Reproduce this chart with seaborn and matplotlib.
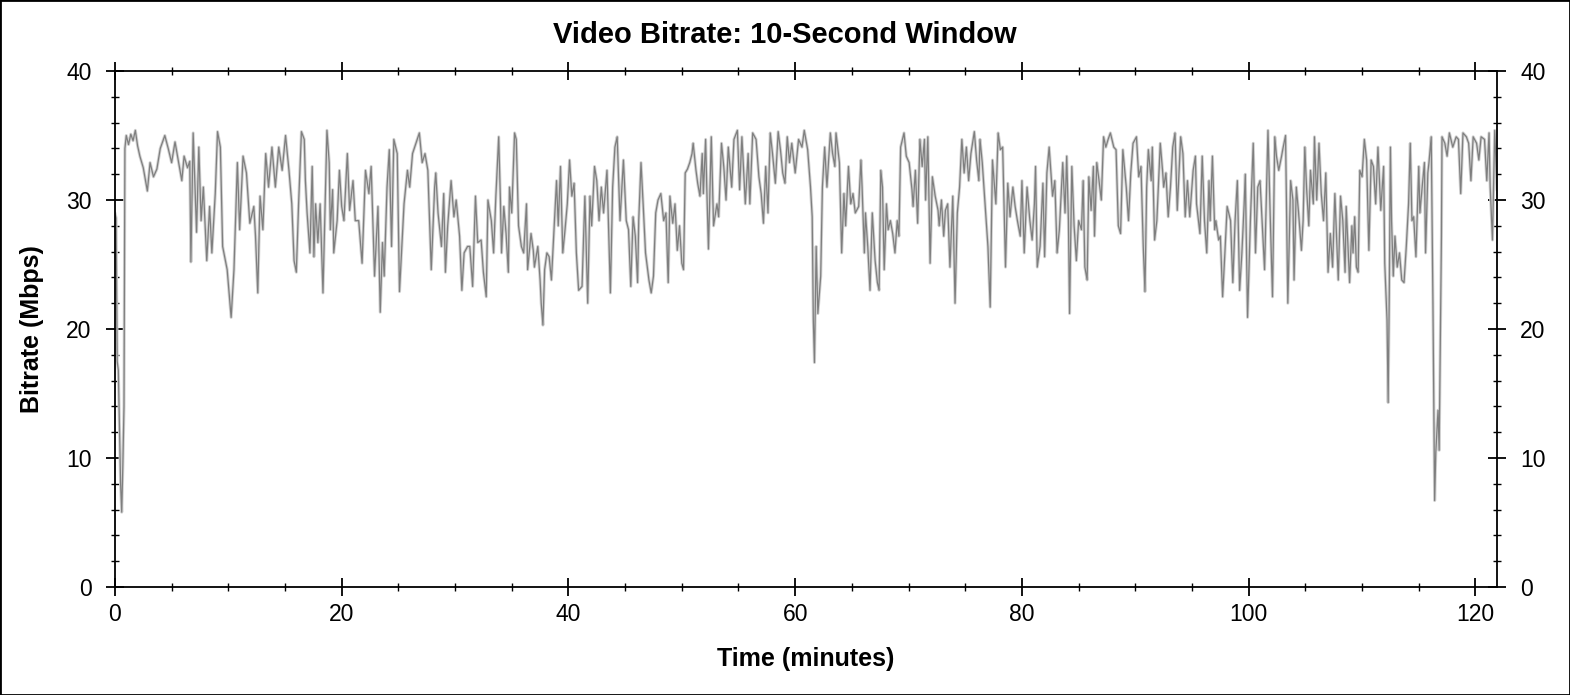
import matplotlib
matplotlib.use("Agg")
import matplotlib.pyplot as plt
from matplotlib.patches import Rectangle
from matplotlib.ticker import MultipleLocator
import seaborn as sns
import pandas as pd

# values (minutes, Mbps)
minutes = [
    0.0, 0.1, 0.2, 0.3, 0.4, 0.5, 0.6, 0.7, 0.8, 0.88,
    1.0, 1.2, 1.4, 1.6, 1.8, 2.0, 2.2, 2.5, 2.86, 3.1,
    3.4, 3.7, 4.0, 4.4, 4.7, 5.0, 5.3, 5.6, 5.9, 6.1,
    6.4, 6.6, 6.7, 6.9, 7.2, 7.4, 7.6, 7.8, 8.1, 8.35,
    8.55, 8.85, 9.05, 9.3, 9.5, 9.9, 10.25, 10.5, 10.8, 11.0,
    11.3, 11.6, 11.9, 12.25, 12.4, 12.6, 12.8, 13.05, 13.3, 13.55,
    13.85, 14.15, 14.45, 14.75, 15.05, 15.35, 15.6, 15.8, 16.0, 16.2,
    16.45, 16.7, 16.8, 16.95, 17.2, 17.4, 17.55, 17.7, 17.9, 18.1,
    18.35, 18.7, 18.9, 19.0, 19.2, 19.3, 19.6, 19.8, 20.0, 20.2,
    20.5, 20.7, 21.0, 21.2, 21.5, 21.8, 22.1, 22.4, 22.6, 22.9,
    23.2, 23.4, 23.6, 23.75, 24.0, 24.2, 24.4, 24.6, 24.9, 25.1,
    25.5, 25.8, 26.0, 26.25, 26.55, 26.85, 27.1, 27.35, 27.6, 27.9,
    28.2, 28.3, 28.5, 28.8, 29.0, 29.15, 29.35, 29.65, 29.9, 30.1,
    30.4, 30.6, 30.8, 31.1, 31.3, 31.55, 31.8, 32.0, 32.3, 32.5,
    32.75, 32.9, 33.2, 33.4, 33.6, 33.85, 34.0, 34.1, 34.3, 34.5,
    34.7, 34.8, 35.0, 35.25, 35.4, 35.6, 35.85, 36.05, 36.3, 36.4,
    36.7, 36.9, 37.0, 37.3, 37.5, 37.6, 37.75, 37.9, 38.1, 38.3,
    38.5, 38.7, 38.95, 39.1, 39.3, 39.5, 39.7, 39.9, 40.1, 40.3,
    40.5, 40.7, 40.9, 41.2, 41.45, 41.7, 41.9, 42.05, 42.3, 42.5,
    42.7, 42.9, 43.1, 43.4, 43.7, 43.9, 44.1, 44.3, 44.55, 44.85,
    45.1, 45.3, 45.5, 45.7, 45.9, 46.1, 46.2, 46.4, 46.6, 46.8,
    47.1, 47.3, 47.5, 47.7, 47.9, 48.15, 48.4, 48.6, 48.8, 48.95,
    49.2, 49.4, 49.6, 49.8, 50.0, 50.15, 50.3, 50.5, 50.7, 50.9,
    51.0, 51.25, 51.4, 51.6, 51.8, 51.9, 52.1, 52.2, 52.35, 52.6,
    52.8, 53.1, 53.25, 53.5, 53.7, 53.9, 54.1, 54.4, 54.6, 54.9,
    55.1, 55.3, 55.6, 55.85, 56.0, 56.25, 56.55, 56.8, 57.0, 57.2,
    57.4, 57.6, 57.8, 58.0, 58.25, 58.5, 58.7, 58.9, 59.1, 59.3,
    59.5, 59.7, 60.0, 60.3, 60.6, 60.8, 61.1, 61.35, 61.5, 61.6,
    61.7, 61.85, 62.0, 62.25, 62.4, 62.6, 62.8, 63.1, 63.3, 63.5,
    63.6, 63.9, 64.1, 64.3, 64.45, 64.7, 64.9, 65.1, 65.3, 65.6,
    65.8, 65.9, 66.1, 66.2, 66.4, 66.6, 66.8, 67.05, 67.25, 67.4,
    67.55, 67.7, 67.85, 68.05, 68.2, 68.4, 68.6, 68.8, 69.0, 69.15,
    69.3, 69.6, 69.8, 70.05, 70.3, 70.4, 70.6, 70.8, 71.0, 71.2,
    71.4, 71.5, 71.7, 71.9, 72.1, 72.35, 72.6, 72.7, 72.9, 73.1,
    73.25, 73.45, 73.65, 73.9, 74.1, 74.3, 74.5, 74.7, 74.9, 75.1,
    75.3, 75.5, 75.8, 76.0, 76.2, 76.3, 76.5, 76.8, 77.0, 77.2,
    77.4, 77.7, 77.9, 78.1, 78.3, 78.55, 78.75, 78.95, 79.2, 79.4,
    79.6, 79.85, 80.0, 80.2, 80.45, 80.7, 80.9, 81.1, 81.2, 81.35,
    81.6, 81.85, 82.0, 82.2, 82.4, 82.7, 82.9, 83.1, 83.3, 83.6,
    83.8, 83.95, 84.1, 84.2, 84.4, 84.6, 84.8, 85.0, 85.25, 85.4,
    85.55, 85.75, 85.9, 86.1, 86.3, 86.4, 86.6, 86.8, 87.0, 87.2,
    87.4, 87.6, 87.8, 88.1, 88.3, 88.5, 88.7, 88.9, 89.2, 89.4,
    89.6, 89.8, 90.1, 90.3, 90.5, 90.7, 90.85, 91.0, 91.15, 91.4,
    91.5, 91.7, 91.9, 92.2, 92.4, 92.5, 92.7, 92.9, 93.1, 93.3,
    93.5, 93.7, 94.0, 94.2, 94.4, 94.6, 94.8, 95.1, 95.3, 95.4,
    95.7, 95.9, 96.1, 96.3, 96.5, 96.6, 96.8, 97.0, 97.1, 97.35,
    97.5, 97.7, 97.9, 98.1, 98.4, 98.6, 98.8, 99.0, 99.2, 99.4,
    99.6, 99.7, 99.9, 100.15, 100.4, 100.6, 100.8, 101.0, 101.4, 101.7,
    101.9, 102.1, 102.3, 102.45, 102.65, 102.9, 103.0, 103.25, 103.45, 103.7,
    103.9, 104.0, 104.2, 104.4, 104.65, 104.8, 104.95, 105.1, 105.3, 105.45,
    105.7, 105.8, 106.0, 106.2, 106.4, 106.6, 106.8, 107.0, 107.2, 107.4,
    107.6, 107.8, 107.9, 108.1, 108.3, 108.5, 108.6, 108.9, 109.1, 109.2,
    109.35, 109.5, 109.65, 109.8, 110.0, 110.2, 110.4, 110.6, 110.8, 111.0,
    111.2, 111.4, 111.65, 111.9, 112.0, 112.2, 112.3, 112.4, 112.5, 112.6,
    112.75, 112.9, 113.1, 113.3, 113.5, 113.7, 113.9, 114.1, 114.25, 114.4,
    114.55, 114.75, 115.0, 115.1, 115.3, 115.5, 115.6, 115.8, 115.9, 116.1,
    116.25, 116.4, 116.5, 116.7, 116.8, 117.0, 117.05, 117.3, 117.5, 117.7,
    118.0, 118.3, 118.5, 118.7, 118.9, 119.2, 119.4, 119.6, 119.8, 120.1,
    120.3, 120.5, 120.8, 121.0, 121.2, 121.3, 121.5, 121.7, 121.9, 122.1,
]

bitrate = [
    29.0, 28.6, 17.5, 16.8, 12.5, 8.0, 5.8, 9.5, 14.0, 34.0,
    35.0, 34.3, 35.1, 34.6, 35.4, 34.2, 33.4, 32.5, 30.7, 32.9,
    31.8, 32.4, 34.0, 35.0, 34.0, 32.9, 34.5, 33.0, 31.5, 33.4,
    32.5, 33.0, 25.2, 35.2, 27.5, 34.1, 28.4, 31.0, 25.3, 29.5,
    25.9, 30.5, 35.3, 34.1, 26.4, 24.6, 20.9, 24.6, 32.9, 27.7,
    33.4, 32.1, 28.2, 29.5, 27.2, 22.8, 30.3, 27.7, 33.6, 31.0,
    34.1, 31.0, 34.1, 32.3, 35.0, 32.3, 29.7, 25.3, 24.4, 29.7,
    35.3, 34.7, 31.5, 29.0, 25.9, 32.6, 25.6, 29.7, 26.7, 29.7,
    22.8, 35.4, 32.9, 27.7, 30.8, 25.9, 28.4, 32.3, 29.5, 28.4,
    33.6, 29.2, 31.5, 28.4, 28.4, 25.1, 32.3, 30.5, 32.6, 24.1,
    29.5, 21.3, 26.7, 24.1, 31.0, 33.9, 26.4, 34.7, 33.6, 22.9,
    29.7, 32.3, 31.0, 33.6, 34.4, 35.2, 32.9, 33.6, 32.3, 24.6,
    31.0, 32.1, 29.0, 26.4, 30.5, 24.4, 28.0, 31.5, 28.7, 30.0,
    27.2, 23.0, 25.9, 26.4, 26.4, 23.3, 30.3, 26.7, 26.9, 24.4,
    22.5, 30.0, 28.4, 25.9, 30.3, 34.9, 30.0, 25.9, 29.5, 27.4,
    24.4, 31.0, 29.0, 35.2, 34.7, 28.0, 26.4, 25.9, 29.7, 24.6,
    27.4, 26.1, 24.8, 26.4, 23.8, 22.0, 20.3, 24.6, 25.9, 25.6,
    23.8, 27.2, 31.5, 28.0, 32.6, 25.9, 27.7, 29.7, 33.1, 30.3,
    31.3, 25.9, 23.0, 23.3, 30.3, 22.0, 30.3, 28.0, 32.6, 31.5,
    28.4, 31.0, 29.0, 32.3, 22.8, 31.0, 34.1, 34.9, 28.4, 33.1,
    28.4, 27.7, 23.3, 28.7, 27.2, 23.6, 28.4, 32.9, 29.5, 25.9,
    23.8, 22.8, 24.1, 29.0, 30.0, 30.5, 28.4, 29.0, 23.6, 30.3,
    28.2, 29.7, 26.1, 28.0, 25.1, 24.6, 32.1, 32.4, 32.9, 33.6,
    34.4, 32.3, 31.3, 30.3, 33.6, 30.5, 34.7, 31.0, 26.2, 34.9,
    28.0, 29.7, 28.7, 34.4, 32.6, 30.0, 34.1, 31.0, 34.7, 35.4,
    30.8, 34.9, 29.7, 33.6, 29.7, 35.2, 34.7, 31.8, 30.5, 28.2,
    32.6, 29.0, 35.2, 33.6, 31.3, 35.3, 33.9, 32.1, 31.3, 34.9,
    32.9, 34.4, 32.1, 34.7, 34.1, 35.4, 33.9, 31.0, 28.7, 20.7,
    17.4, 26.4, 21.2, 24.1, 31.0, 34.1, 31.0, 35.2, 33.6, 32.6,
    35.2, 32.9, 25.9, 30.5, 28.0, 32.6, 29.7, 30.5, 29.0, 29.5,
    33.1, 31.0, 25.9, 29.0, 26.4, 23.0, 29.0, 25.3, 23.6, 23.0,
    32.3, 31.0, 24.6, 29.7, 27.7, 28.4, 27.4, 25.9, 28.4, 27.2,
    34.1, 35.2, 33.4, 32.9, 30.8, 29.5, 32.3, 28.2, 34.7, 32.6,
    34.7, 30.0, 34.9, 25.1, 31.8, 30.3, 29.2, 28.0, 30.0, 27.2,
    29.2, 29.7, 24.8, 30.3, 22.0, 29.0, 31.0, 34.7, 32.1, 34.1,
    31.5, 33.6, 35.3, 33.1, 31.5, 34.7, 32.9, 29.0, 26.4, 21.7,
    33.1, 29.7, 35.2, 33.9, 34.1, 24.8, 31.3, 28.7, 31.0, 29.5,
    28.4, 27.2, 31.5, 25.9, 31.0, 28.4, 26.9, 29.7, 32.6, 24.8,
    26.4, 31.3, 25.6, 32.1, 34.1, 30.3, 31.5, 25.9, 27.7, 32.9,
    29.0, 33.4, 28.4, 21.2, 32.6, 28.0, 25.3, 28.4, 27.7, 31.5,
    24.8, 23.8, 31.8, 29.2, 32.6, 27.2, 32.9, 31.5, 30.0, 34.9,
    34.1, 34.7, 35.2, 34.1, 33.9, 28.0, 27.4, 33.9, 31.0, 28.4,
    32.1, 34.4, 34.9, 31.8, 32.6, 26.4, 22.9, 31.0, 33.9, 31.5,
    34.1, 26.9, 28.4, 34.4, 32.3, 31.0, 32.1, 28.7, 31.0, 34.1,
    35.2, 29.2, 34.9, 33.6, 28.7, 31.5, 28.7, 32.3, 33.4, 29.7,
    27.4, 33.4, 28.4, 25.9, 31.5, 28.4, 33.4, 27.7, 28.4, 26.9,
    27.2, 22.5, 25.9, 29.5, 28.4, 23.6, 28.4, 31.5, 23.0, 25.9,
    29.7, 32.0, 20.9, 28.4, 34.4, 25.9, 31.0, 31.5, 24.6, 35.4,
    28.7, 22.5, 34.9, 33.4, 32.3, 33.4, 33.9, 35.0, 22.0, 31.5,
    30.0, 23.8, 31.0, 29.0, 26.1, 28.4, 34.1, 31.0, 28.0, 32.3,
    29.7, 34.9, 30.0, 34.4, 30.5, 28.4, 32.1, 24.4, 27.4, 24.8,
    30.5, 25.9, 23.8, 30.3, 28.4, 24.4, 29.5, 23.6, 28.0, 25.9,
    28.7, 24.8, 24.4, 32.3, 31.8, 34.7, 33.1, 26.1, 33.1, 32.6,
    29.7, 34.1, 29.2, 32.6, 25.1, 20.7, 14.3, 22.8, 34.1, 28.4,
    24.1, 27.2, 24.8, 25.9, 23.8, 23.6, 26.4, 29.7, 34.4, 28.4,
    28.7, 25.6, 32.6, 29.0, 31.0, 32.9, 25.9, 32.1, 32.9, 34.9,
    22.0, 6.7, 10.4, 13.7, 10.6, 27.2, 34.9, 34.4, 33.4, 35.2,
    34.1, 34.9, 34.7, 30.5, 35.2, 34.9, 34.4, 31.5, 34.9, 34.4,
    33.1, 34.9, 34.7, 31.5, 35.2, 31.0, 26.9, 35.4, 30.8, 30.3,
]

x_ticks = [0, 20, 40, 60, 80, 100, 120]
y_ticks = [0, 10, 20, 30, 40]

df = pd.DataFrame({"minutes": minutes, "bitrate": bitrate})

sns.set_style("ticks")
plt.rcParams["font.family"] = ["Liberation Sans", "DejaVu Sans"]
plt.rcParams["text.color"] = "black"
plt.rcParams["axes.labelcolor"] = "black"

fig = plt.figure(figsize=(15.7, 6.95), dpi=100)
ax = fig.add_axes([0.0732, 0.1554, 0.8803, 0.7424])

# light halo under the darker trace
sns.lineplot(data=df, x="minutes", y="bitrate", ax=ax, color="#d2d2d2",
             linewidth=2.2, estimator=None, sort=False)
sns.lineplot(data=df, x="minutes", y="bitrate", ax=ax, color="#7f7f7f",
             linewidth=0.9, estimator=None, sort=False)

ax.set_xlim(0, 121.9)
ax.set_ylim(0, 40)
ax.set_xticks(x_ticks)
ax.set_yticks(y_ticks)
ax.xaxis.set_minor_locator(MultipleLocator(5))
ax.yaxis.set_minor_locator(MultipleLocator(2))

for side in ["top", "right", "left", "bottom"]:
    ax.spines[side].set_visible(True)
    ax.spines[side].set_color("black")
    ax.spines[side].set_linewidth(1.3)

ax.tick_params(axis="both", which="major", direction="inout", length=13.5,
               width=1.3, colors="black", labelsize=16.5, top=True, right=True,
               labelright=True)
ax.tick_params(axis="both", which="minor", direction="inout", length=6,
               width=1.0, colors="black", top=True, right=True)
ax.tick_params(axis="y", which="major", pad=10)
ax.tick_params(axis="x", which="major", pad=5)

ax.set_xlabel("Time (minutes)", fontsize=18, fontweight="bold")
ax.set_ylabel("Bitrate (Mbps)", fontsize=18, fontweight="bold")
ax.xaxis.set_label_coords(0.5, -0.1395)
ax.xaxis.label.set_va("center")
ax.yaxis.set_label_coords(-0.060, 0.5)
ax.yaxis.label.set_va("center")

fig.text(0.5, 1 - 35 / 695, "Video Bitrate: 10-Second Window", ha="center",
         va="center", fontsize=21, fontweight="bold")

fig.patches.append(Rectangle((0, 0), 1, 1, transform=fig.transFigure,
                             fill=False, edgecolor="black", linewidth=2))

fig.savefig("out.png", dpi=100, facecolor="white")
